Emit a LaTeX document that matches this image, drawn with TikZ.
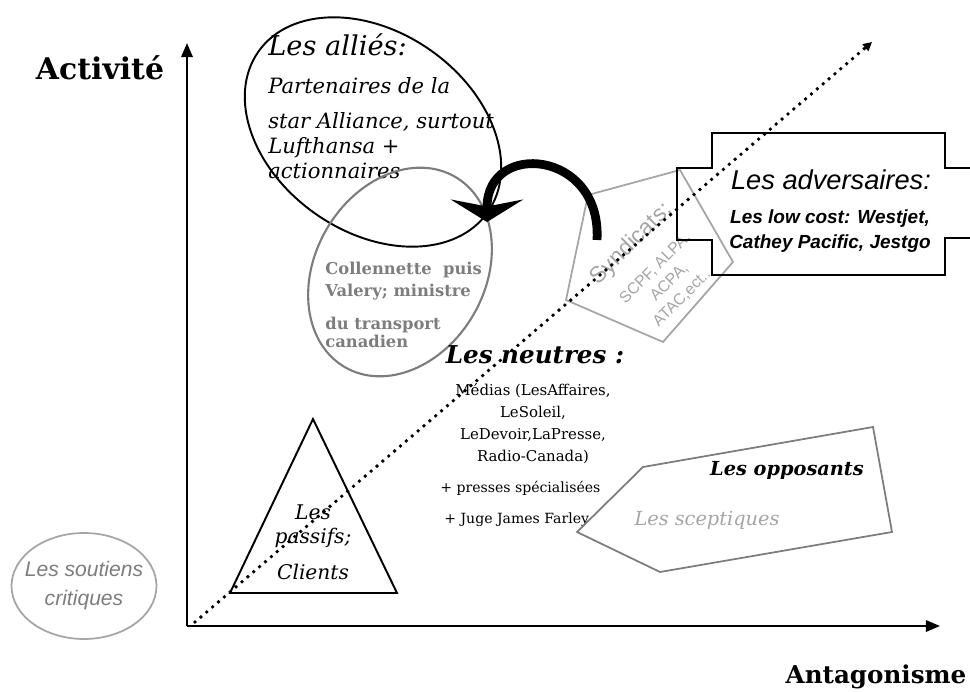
\documentclass[tikz,border=0pt]{standalone}
\usepackage{fontspec}
\setmainfont{DejaVu Serif}
\setsansfont{Liberation Sans}
\usepackage{tikz}
\usetikzlibrary{shapes.geometric, positioning, arrows.meta}
\definecolor{ShGray}{RGB}{125,125,125}
\definecolor{ShLight}{RGB}{165,165,165}
\newcommand{\fsize}[2]{\fontsize{#1}{#2}\selectfont}

\begin{document}
\begin{tikzpicture}[x=0.02cm, y=-0.02cm,
          axe/.style={line width=1.1pt, -{Triangle[length=8pt, width=6.5pt]}},
          dotarr/.style={line width=2.2pt, line cap=round,
                         dash pattern=on 0pt off 4.4pt,
                         -{Triangle[length=5pt, width=5pt]}},
          bigarr/.style={line width=5pt,
                         -{Stealth[length=0.45cm, width=1.45cm, inset=0.14cm]}},
          oval/.style={ellipse, draw, inner sep=0pt},
          grayln/.style={draw=ShGray, line width=1pt},
          lbl/.style={inner sep=0pt, align=center}
        ]
        \useasboundingbox (0,0) rectangle (970,692);

        % Axes
        \coordinate (O)    at (187,626);
        \coordinate (ytop) at (187,43);
        \coordinate (xend) at (940,626);
        \draw[axe] (O) -- (ytop);
        \draw[axe] (O) -- (xend);
        \node[lbl, font=\bfseries\fsize{17}{20}] (ylab) at (100,68) {Activité};
        \node[lbl, font=\bfseries\fsize{14}{17}] (xlab) at (876,677) {Antagonisme};

        % Allies
        \node[oval, line width=1.1pt, minimum width=5.6cm, minimum height=4cm,
              rotate=-35] (allies) at (373,132) {};
        \node[lbl, anchor=west, font=\itshape\fsize{15.5}{18}]
              (alliesT) at (268,45) {Les alliés:};
        \node[lbl, anchor=north west, align=left, font=\itshape\fsize{12}{14.2}]
              (alliesB) at (268,77)
              {Partenaires de la\\[6pt]star Alliance, surtout\\Lufthansa +\\actionnaires};

        % Collenette
        \node[oval, draw=ShGray, line width=1.2pt, minimum width=4.4cm,
              minimum height=3.4cm, rotate=60] (colle) at (400,272) {};
        \node[lbl, anchor=north west, align=left, text=ShGray,
              font=\bfseries\fsize{9.3}{12.5}] (colleT) at (325,262)
              {Collennette\ \ puis\\Valery; ministre\\[6pt]du transport\\[-2pt]canadien};

        % Syndicats
        \draw[grayln, draw=ShLight] (588,195) -- (680,170) -- (733,262)
              -- (663,342) -- (566,300) -- cycle;
        \node[lbl, rotate=45, text=ShLight, font=\sffamily\fsize{9}{11.4}]
              (synd) at (656,269)
              {{\fsize{13}{15}Syndicats;}\\[7pt]SCPF, ALPA,\\ACPA,\\ATAC,ect...};

        % Adversaires
        \draw[line width=0.8pt] (970,238) -- (945,238) -- (945,275) -- (712,275)
              -- (712,240) -- (677,240) -- (677,168) -- (712,168) -- (712,133)
              -- (945,133) -- (945,168) -- (970,168);
        \node[lbl, font=\sffamily\itshape\fsize{15.5}{18}] (advT) at (831,180)
              {Les adversaires:};
        \node[lbl, anchor=north, font=\sffamily\bfseries\itshape\fsize{10.8}{14.2}]
              (advB) at (830,209) {Les low cost: Westjet,\\Cathey Pacific, Jestgo};

        % Curved arrow
        \coordinate (cfrom) at (597,240);
        \coordinate (cto)   at (487,222);
        \draw[bigarr] (cfrom) .. controls (602,150) and (487,140) .. (cto);

        % Neutres
        \node[lbl, font=\bfseries\itshape\fsize{14}{16}] (neutT) at (535,355)
              {Les neutres :};
        \node[lbl, anchor=north, font=\fsize{8.5}{12.5}] (neutB) at (533,383)
              {Médias (LesAffaires,\\LeSoleil,\\LeDevoir,LaPresse,\\Radio-Canada)};
        \node[lbl, anchor=west, font=\fsize{8}{10}] (presse) at (440,488)
              {+ presses spécialisées};
        \node[lbl, anchor=west, font=\fsize{8}{10}] (juge) at (444,520)
              {+ Juge James Farley};

        % Opposants
        \draw[grayln] (643,467) -- (873,427) -- (892,532) -- (660,572)
              -- (577,532) -- cycle;
        \node[lbl, font=\bfseries\itshape\fsize{11}{13}] (oppT) at (787,470)
              {Les opposants};
        \node[lbl, text=ShLight, font=\itshape\fsize{11}{13}] (scept) at (707,520)
              {Les sceptiques};

        % Passifs
        \draw[line width=1.1pt] (313,419) -- (397,593) -- (230,593) -- cycle;
        \node[lbl, font=\itshape\fsize{11.5}{14.2}] (passT) at (313,542)
              {Les\\passifs;\\[6pt]Clients};

        % Soutiens critiques
        \node[oval, draw=ShLight, line width=1pt, minimum width=2.9cm,
              minimum height=2.12cm] (sout) at (84,586) {};
        \node[lbl, text=ShGray, font=\sffamily\itshape\fsize{12}{16.5}]
              (soutT) at (sout.center) {Les soutiens\\critiques};

        % Diagonal
        \coordinate (dstart) at (195,622);
        \coordinate (dend)   at (872,42);
        \draw[dotarr] (dstart) -- (dend);
      \end{tikzpicture}
\end{document}
